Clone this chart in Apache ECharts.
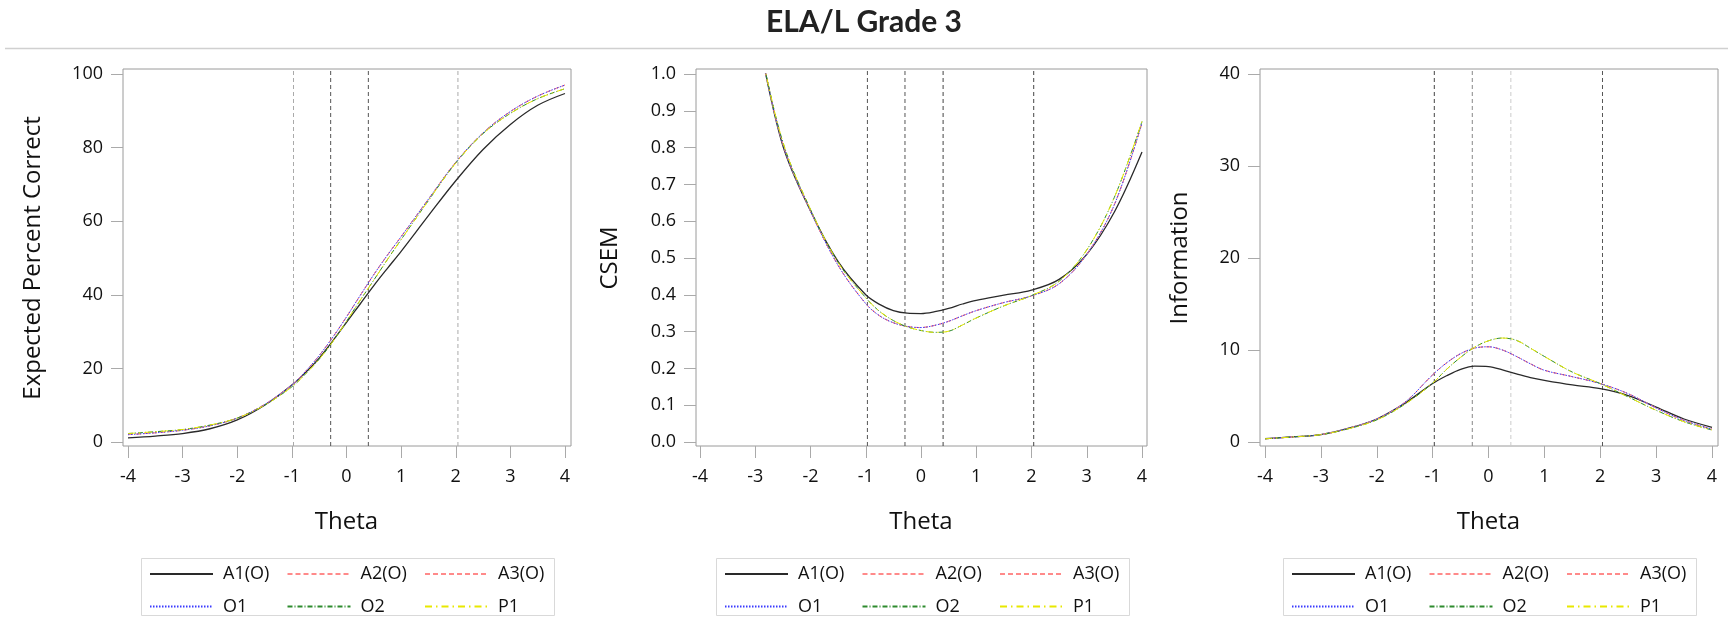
<!DOCTYPE html>
<html><head><meta charset="utf-8">
<script src="https://cdn.jsdelivr.net/npm/echarts@6/dist/echarts.min.js"></script>
<style>html,body{margin:0;padding:0;background:#fff}#c{width:1728px;height:626px}</style>
</head><body><div id="c"></div>
<script>
// ---------- data ----------
const theta = [-4,-3.5,-3,-2.5,-2,-1.5,-1,-0.75,-0.5,-0.25,0,0.25,0.5,0.75,1,1.5,2,2.5,3,3.5,4];
const seriesNames = ['A1(O)','A2(O)','A3(O)','O1','O2','P1'];
const cutScores = [-0.97,-0.29,0.40,2.04];

const eccA1 = [1.1,1.6,2.3,3.6,6.0,10.0,15.5,18.9,22.8,27.5,32.5,37.5,42.5,47.2,51.8,61.5,71.0,79.5,86.3,91.5,94.7];
const eccA2 = [2.0,2.5,3.2,4.4,6.5,10.2,15.5,19.2,23.5,28.5,34.0,39.8,45.5,50.8,55.8,66.0,76.0,84.0,89.8,94.0,97.0];
const eccA3 = [2.0,2.5,3.2,4.4,6.5,10.2,15.5,19.2,23.5,28.5,34.0,39.8,45.5,50.8,55.8,66.0,76.0,84.0,89.8,94.0,97.0];
const eccO1 = [2.0,2.5,3.2,4.4,6.5,10.2,15.5,19.2,23.5,28.5,34.0,39.8,45.5,50.8,55.8,66.0,76.0,84.0,89.8,94.0,97.0];
const eccO2 = [2.3,2.8,3.4,4.6,6.5,10.0,15.0,18.5,22.5,27.3,32.8,38.5,44.0,49.6,55.0,65.6,75.8,83.8,89.3,93.3,96.0];
const eccP1 = [2.3,2.8,3.4,4.6,6.5,10.0,15.0,18.5,22.5,27.3,32.8,38.5,44.0,49.6,55.0,65.6,75.8,83.8,89.3,93.3,96.0];

const csemA1 = [1.67,1.35,1.12,0.805,0.628,0.49,0.40,0.374,0.357,0.350,0.349,0.354,0.363,0.375,0.385,0.399,0.413,0.442,0.51,0.625,0.788];
const csemA2 = [1.68,1.36,1.12,0.81,0.628,0.48,0.376,0.343,0.324,0.314,0.311,0.317,0.328,0.343,0.357,0.379,0.397,0.43,0.51,0.645,0.867];
const csemA3 = [1.68,1.36,1.12,0.81,0.628,0.48,0.376,0.343,0.324,0.314,0.311,0.317,0.328,0.343,0.357,0.379,0.397,0.43,0.51,0.645,0.867];
const csemO1 = [1.68,1.36,1.12,0.81,0.628,0.48,0.376,0.343,0.324,0.314,0.311,0.317,0.328,0.343,0.357,0.379,0.397,0.43,0.51,0.645,0.867];
const csemO2 = [1.68,1.36,1.12,0.815,0.632,0.488,0.392,0.355,0.330,0.313,0.303,0.298,0.301,0.318,0.337,0.37,0.398,0.437,0.522,0.665,0.871];
const csemP1 = [1.68,1.36,1.12,0.815,0.632,0.488,0.392,0.355,0.330,0.313,0.303,0.298,0.301,0.318,0.337,0.37,0.398,0.437,0.522,0.665,0.871];

const infoA1 = [0.36,0.55,0.8,1.5,2.5,4.2,6.35,7.2,7.9,8.25,8.2,7.85,7.4,7.0,6.7,6.2,5.8,5.05,3.8,2.5,1.6];
const infoA2 = [0.35,0.55,0.8,1.5,2.5,4.3,7.3,8.6,9.6,10.2,10.35,10.0,9.3,8.5,7.8,7.1,6.35,5.25,3.7,2.35,1.4];
const infoA3 = [0.35,0.55,0.8,1.5,2.5,4.3,7.3,8.6,9.6,10.2,10.35,10.0,9.3,8.5,7.8,7.1,6.35,5.25,3.7,2.35,1.4];
const infoO1 = [0.35,0.55,0.8,1.5,2.5,4.3,7.3,8.6,9.6,10.2,10.35,10.0,9.3,8.5,7.8,7.1,6.35,5.25,3.7,2.35,1.4];
const infoO2 = [0.35,0.55,0.8,1.45,2.4,4.1,6.4,7.9,9.2,10.3,11.0,11.3,11.05,10.2,9.3,7.6,6.35,4.9,3.45,2.2,1.3];
const infoP1 = [0.35,0.55,0.8,1.45,2.4,4.1,6.4,7.9,9.2,10.3,11.0,11.3,11.05,10.2,9.3,7.6,6.35,4.9,3.45,2.2,1.3];

const yNames = ['Expected Percent Correct','CSEM','Information'];
const yMaxes = [100, 1, 40];
const yIntervals = [20, 0.1, 10];
const panelData = [
  [eccA1,eccA2,eccA3,eccO1,eccO2,eccP1],
  [csemA1,csemA2,csemA3,csemO1,csemO2,csemP1],
  [infoA1,infoA2,infoA3,infoO1,infoO2,infoP1]
];

// ---------- styles / layout ----------
const lineStyles = [
  {color:'#2a2a2a', type:'solid', width:1.3},
  {color:'#ff8a8a', type:[5,3], width:1},
  {color:'#ff8a8a', type:[5,3], width:1},
  {color:'#3a3aff', type:[1.5,1.5], width:1},
  {color:'#2e8b2e', type:[5,2,1,2], width:1},
  {color:'#e8e800', type:[7,4,1.5,4], width:1}
];
const layout = [
  {box:{l:123,r:571,t:69,b:446}, data:{l:128,r:565,t:74,b:442}, nameGap:78, legendLeft:141,
   cutColors:['#aaaaaa','#555555','#555555','#aaaaaa']},
  {box:{l:696,r:1147,t:69,b:446}, data:{l:700,r:1142,t:74,b:442}, nameGap:74, legendLeft:716,
   cutColors:['#555555','#555555','#444444','#444444']},
  {box:{l:1260,r:1718,t:69,b:446}, data:{l:1265,r:1712,t:74,b:442}, nameGap:68, legendLeft:1283,
   cutColors:['#444444','#888888','#cccccc','#555555']}
];
const FONT = 'Open Sans';
const LEG = {top:558, width:413, height:57, padL:8, padT:7, colStep:137.5};

const grid = [], xAxis = [], yAxis = [], series = [], legend = [], graphic = [];
graphic.push({type:'line', shape:{x1:5, y1:48.5, x2:1728, y2:48.5}, style:{stroke:'#d0d0d0', lineWidth:1.5}, silent:true});
layout.forEach((p, i) => {
  const A = 2*i, B = 2*i+1;
  const unit = (p.data.r - p.data.l) / 8;
  grid.push({left:p.box.l, top:p.box.t, width:p.box.r-p.box.l, height:p.box.b-p.box.t,
    show:true, borderColor:'#9a9a9a', borderWidth:1, backgroundColor:'rgba(0,0,0,0)', outerBoundsMode:'none'});
  grid.push({left:p.data.l, top:p.data.t, width:p.data.r-p.data.l, height:p.data.b-p.data.t,
    show:false, outerBoundsMode:'none'});
  xAxis.push({type:'value', gridIndex:A, show:false,
    min:-4-(p.data.l-p.box.l)/unit, max:4+(p.box.r-p.data.r)/unit});
  yAxis.push({type:'value', gridIndex:A, show:false, min:0, max:1});
  xAxis.push({type:'value', gridIndex:B, min:-4, max:4, interval:1, offset:p.box.b-p.data.b,
    axisLine:{show:false, onZero:false}, axisTick:{show:true, length:12, lineStyle:{color:'#aaaaaa'}},
    splitLine:{show:false},
    axisLabel:{margin:22, color:'#111', fontSize:18, fontFamily:FONT},
    name:'Theta', nameLocation:'middle', nameGap:64,
    nameTextStyle:{fontSize:24, fontFamily:FONT, color:'#111'}});
  yAxis.push({type:'value', gridIndex:B, min:0, max:yMaxes[i], interval:yIntervals[i], offset:p.data.l-p.box.l,
    axisLine:{show:false, onZero:false}, axisTick:{show:true, length:12, lineStyle:{color:'#aaaaaa'}},
    splitLine:{show:false},
    axisLabel:{margin:20, color:'#111', fontSize:18, fontFamily:FONT,
      formatter: i===1 ? (v => v.toFixed(1)) : (v => String(v))},
    name:yNames[i], nameLocation:'middle', nameGap:p.nameGap,
    nameTextStyle:{fontSize:24, fontFamily:FONT, color:'#111'}});
  cutScores.forEach((c, k) => {
    series.push({type:'line', xAxisIndex:A, yAxisIndex:A, data:[[c,0],[c,1]], symbol:'none', silent:true,
      lineStyle:{color:p.cutColors[k], type:[4,3], width:1}, z:1, animation:false});
  });
  seriesNames.forEach((nm, s) => {
    series.push({name:nm, type:'line', xAxisIndex:B, yAxisIndex:B, smooth:0.35, symbol:'none',
      data: theta.map((t, k) => [t, panelData[i][s][k]]),
      lineStyle: lineStyles[s], itemStyle:{color:lineStyles[s].color}, z:2+s, animation:false});
  });
  // legend: three columns of two entries, framed by a thin border
  graphic.push({type:'rect', silent:true,
    shape:{x:p.legendLeft+0.5, y:LEG.top+0.5, width:LEG.width, height:LEG.height},
    style:{fill:'none', stroke:'#d9d9d9', lineWidth:1}});
  for (let c = 0; c < 3; c++) {
    legend.push({left:p.legendLeft + LEG.padL + c*LEG.colStep, top:LEG.top + LEG.padT,
      orient:'vertical', itemWidth:63, itemHeight:14, itemGap:14.5, padding:0,
      selectedMode:false, data:[seriesNames[c], seriesNames[c+3]],
      itemStyle:{opacity:0},
      textStyle:{fontSize:18, fontFamily:FONT, color:'#111', padding:[0,0,0,5]}});
  }
});

const chart = echarts.init(document.getElementById('c'), null, {renderer:'canvas'});
chart.setOption({
  animation:false,
  backgroundColor:'#ffffff',
  title:{text:'ELA/L Grade 3', left:'center', top:7, padding:0,
    textStyle:{fontFamily:'Lato', fontWeight:'bold', fontSize:30, color:'#222'}},
  graphic, grid, xAxis, yAxis, series, legend
});
</script></body></html>
